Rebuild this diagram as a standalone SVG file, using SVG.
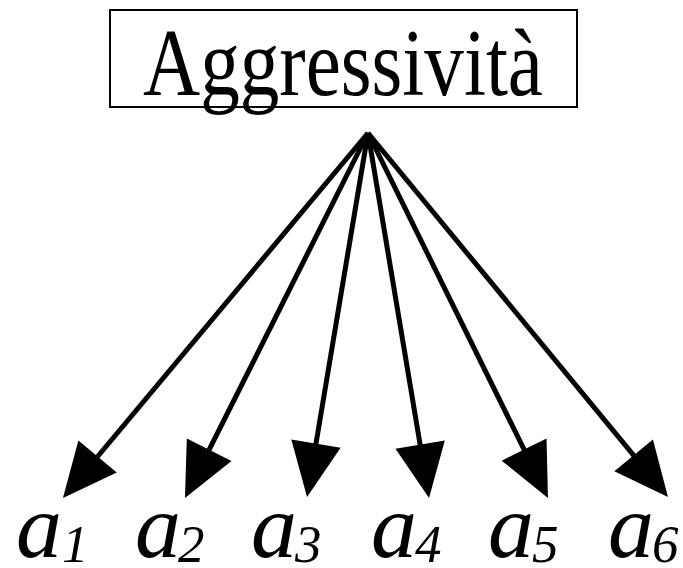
<svg xmlns="http://www.w3.org/2000/svg" width="683" height="568" viewBox="0 0 683 568">
<style>
.lbl{font-family:"Liberation Serif","Times New Roman",serif;font-style:italic;fill:#000}
.main{font-size:92px}
.sub{font-size:53px}
.edge{stroke:#000;stroke-width:5;fill:none;marker-end:url(#ah)}
</style>
<defs>
<marker id="ah" markerUnits="userSpaceOnUse" markerWidth="60" markerHeight="60" refX="24" refY="25" orient="auto" overflow="visible">
<path d="M0,0 L54,25 L0,50 z" fill="#000"/>
</marker>
</defs>
<rect width="683" height="568" fill="#fff"/>
<g id="root">
<rect x="110" y="10" width="467" height="97" fill="#fff" stroke="#000" stroke-width="2"/>
<text x="143" y="95" font-family="Liberation Serif, Times New Roman, serif" font-size="95" textLength="400" lengthAdjust="spacingAndGlyphs">Aggressività</text>
</g>
<g id="connectors">
<line class="edge" x1="368" y1="133" x2="82.2" y2="475.0"/>
<line class="edge" x1="368" y1="133" x2="198.4" y2="471.2"/>
<line class="edge" x1="368" y1="133" x2="312.0" y2="467.4"/>
<line class="edge" x1="368" y1="133" x2="424.1" y2="468.4"/>
<line class="edge" x1="368" y1="133" x2="534.7" y2="471.1"/>
<line class="edge" x1="368" y1="133" x2="648.9" y2="473.8"/>
</g>
<g id="a1"><text class="lbl main" x="16" y="557">a</text><text class="lbl sub" x="62" y="562">1</text></g>
<g id="a2"><text class="lbl main" x="135" y="557">a</text><text class="lbl sub" x="178" y="562">2</text></g>
<g id="a3"><text class="lbl main" x="251" y="557">a</text><text class="lbl sub" x="295" y="562">3</text></g>
<g id="a4"><text class="lbl main" x="371" y="557">a</text><text class="lbl sub" x="415" y="562">4</text></g>
<g id="a5"><text class="lbl main" x="488" y="557">a</text><text class="lbl sub" x="532" y="562">5</text></g>
<g id="a6"><text class="lbl main" x="608" y="557">a</text><text class="lbl sub" x="652" y="562">6</text></g>
</svg>
